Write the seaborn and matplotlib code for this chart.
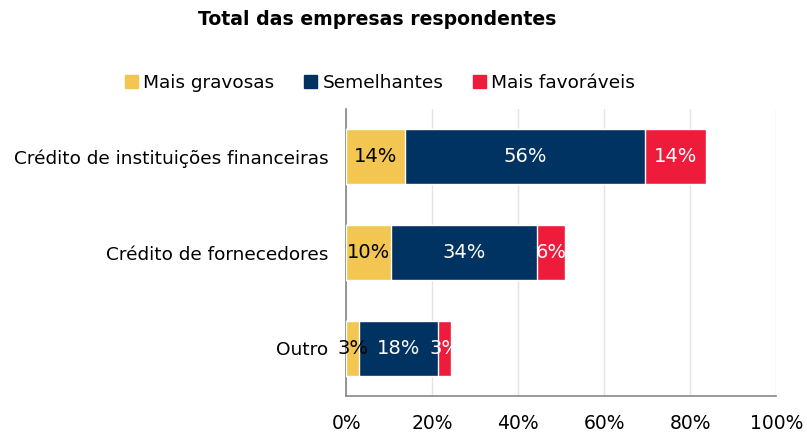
import pandas as pd
import matplotlib
import seaborn as sns
import matplotlib.pyplot as plt
import numpy as np
from matplotlib.patches import Patch

matplotlib.use("Agg")

categories = ["Crédito de instituições financeiras", "Crédito de fornecedores", "Outro"]
series = ["Mais gravosas", "Semelhantes", "Mais favoráveis"]
mais_gravosas = [13.7, 10.5, 3.0]
semelhantes = [55.8, 33.9, 18.4]
mais_favoraveis = [14.2, 6.5, 3.0]
colors = ["#F2C651", "#003362", "#EE1B3B"]
text_colors = ["black", "white", "white"]

df = pd.DataFrame({"cat": categories,
                   "Mais gravosas": mais_gravosas,
                   "Semelhantes": semelhantes,
                   "Mais favoráveis": mais_favoraveis})
cum = df[series].cumsum(axis=1)

sns.set_style("white")
plt.rcParams["font.family"] = ["DejaVu Sans"]
plt.rcParams["text.color"] = "black"
plt.rcParams["xtick.color"] = "black"
plt.rcParams["ytick.color"] = "black"

fig, ax = plt.subplots(figsize=(8.07, 4.32), dpi=100)
fig.subplots_adjust(left=0.429, right=0.962, top=0.748, bottom=0.083)

# stacked bars: draw cumulative totals back to front
for s, c in zip(series[::-1], colors[::-1]):
    sns.barplot(x=cum[s], y=df["cat"], color=c, orient="h", width=0.57,
                ax=ax, saturation=1, zorder=3)

# value labels
for i in range(len(categories)):
    left = 0
    for s, tc in zip(series, text_colors):
        v = df.loc[i, s]
        ax.text(left + v / 2, i, f"{v:.0f}%", ha="center", va="center",
                color=tc, fontsize=14, zorder=5)
        left += v

ax.set_xlim(0, 100)
ax.set_ylim(2.5, -0.5)
ax.set_xticks(np.arange(0, 101, 20))
ax.set_xticklabels([f"{t}%" for t in range(0, 101, 20)], fontsize=13.5)
ax.set_yticks([0, 1, 2])
ax.set_yticklabels(categories, fontsize=13.3)
ax.tick_params(axis="y", length=0, pad=13)
ax.set_yticks([0.5, 1.5], minor=True)
ax.tick_params(axis="y", which="minor", length=5, color="#888888", width=1.2)
ax.tick_params(axis="x", length=5, color="#888888", width=1.2, direction="out", pad=8)
ax.xaxis.grid(True, color="#e4e4e4", linewidth=1, zorder=0)
ax.set_axisbelow(True)
ax.set_xlabel("")
ax.set_ylabel("")
for side in ["top", "right"]:
    ax.spines[side].set_visible(False)
for side in ["left", "bottom"]:
    ax.spines[side].set_color("#888888")
    ax.spines[side].set_linewidth(1.2)

fig.suptitle("Total das empresas respondentes", x=0.468, y=0.978,
             fontsize=13.6, fontweight="bold")
handles = [Patch(color=c, label=s) for s, c in zip(series, colors)]
fig.legend(handles=handles, loc="center", bbox_to_anchor=(0.471, 0.808), ncol=3,
           frameon=False, fontsize=13.3, handlelength=0.7, handleheight=0.7,
           handletextpad=0.3, columnspacing=1.6)

fig.savefig("out.png", dpi=100)
